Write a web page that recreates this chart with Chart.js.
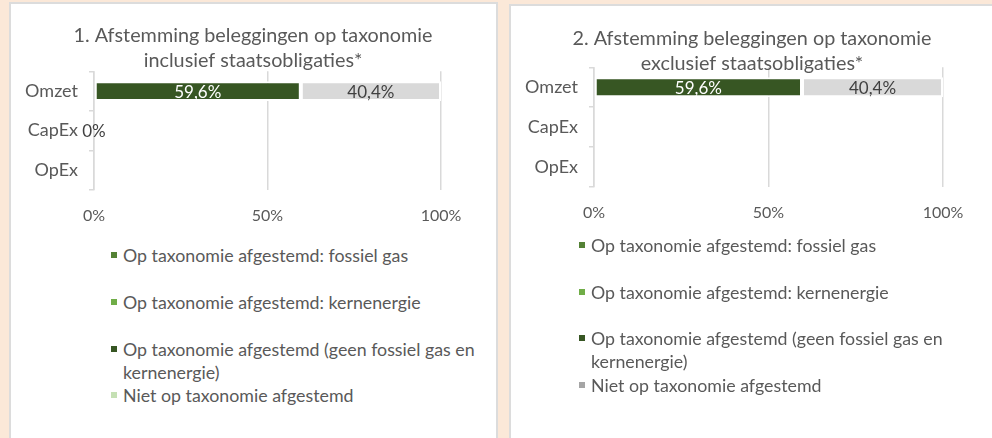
<!DOCTYPE html>
<html>
<head>
<meta charset="utf-8">
<script src="https://cdn.jsdelivr.net/npm/chart.js@4.4.1/dist/chart.umd.min.js"></script>
<style>
  body { margin: 0; width: 992px; height: 438px; background: #fbe8d8; overflow: hidden; position: relative; font-family: Lato, sans-serif; }
  .panel { position: absolute; background: #fff; border: 2px solid #dcdcdc; box-sizing: border-box; }
  #p1 { left: 9px; top: 2px; width: 489px; height: 460px; }
  #p2 { left: 509px; top: 4px; width: 500px; height: 460px; }
  .wrap { position: absolute; top: 0; height: 240px; }
  #w1 { left: 0; width: 506px; }
  #w2 { left: 512px; width: 480px; }
  .legend { position: absolute; color: #595959; font-size: 17.8px; }
  #l1 { left: 123px; top: 244px; }
  #l2 { left: 591px; top: 234px; }
  .item { position: absolute; left: 0; width: 370px; line-height: 23px; }
  .dot { position: absolute; left: -12px; top: 8px; width: 6px; height: 6px; }
</style>
</head>
<body>
<div class="panel" id="p1"></div>
<div class="panel" id="p2"></div>
<div class="wrap" id="w1"><canvas id="c1"></canvas></div>
<div class="wrap" id="w2"><canvas id="c2"></canvas></div>
<div class="legend" id="l1"></div>
<div class="legend" id="l2"></div>
<script>
const categories = ['Omzet', 'CapEx', 'OpEx'];
const seriesNames = [
  'Op taxonomie afgestemd: fossiel gas',
  'Op taxonomie afgestemd: kernenergie',
  'Op taxonomie afgestemd (geen fossiel gas en kernenergie)',
  'Niet op taxonomie afgestemd'
];
const xTicks = [0, 50, 100];

// 1. inclusief staatsobligaties
const inclFossilGas = [null, null, null];
const inclNuclear = [null, null, null];
const inclAligned = [59.6, null, null];
const inclNotAligned = [40.4, 0, null];

// 2. exclusief staatsobligaties
const exclFossilGas = [null, null, null];
const exclNuclear = [null, null, null];
const exclAligned = [59.6, null, null];
const exclNotAligned = [40.4, null, null];

const TEXT = '#595959';
const GRID = '#d9d9d9';
const COLORS = ['#548235', '#70ad47', '#375623', '#d9d9d9'];

const fmt = v => Number.isInteger(v) ? v + '%' : v.toFixed(1).replace('.', ',') + '%';

const barLabels = {
  id: 'barLabels',
  afterDatasetsDraw(chart) {
    const ctx = chart.ctx;
    ctx.save();
    ctx.font = '17px Lato';
    ctx.textAlign = 'center';
    ctx.textBaseline = 'middle';
    chart.data.datasets.forEach((ds, i) => {
      if (!ds.labelColor) return;
      chart.getDatasetMeta(i).data.forEach((el, j) => {
        const v = ds.data[j];
        if (v == null) return;
        ctx.fillStyle = ds.labelColor;
        ctx.fillText(fmt(v), (el.x + el.base) / 2, el.y + 1);
      });
    });
    ctx.restore();
  }
};

// centre the title over the whole canvas, not just the padded box
const fullTitle = {
  id: 'fullTitle',
  afterLayout(chart) {
    if (chart.titleBlock) { chart.titleBlock.left = 0; chart.titleBlock.right = chart.width; }
  }
};

function makeChart(id, title, series, o) {
  const labelColors = [null, null, '#ffffff', '#404040'];
  return new Chart(document.getElementById(id), {
    type: 'bar',
    data: {
      labels: categories,
      datasets: series.map((d, i) => ({
        label: seriesNames[i],
        data: d,
        backgroundColor: COLORS[i],
        borderColor: '#ffffff',
        borderWidth: 2,
        borderSkipped: false,
        barPercentage: 0.5,
        categoryPercentage: 1,
        labelColor: labelColors[i]
      }))
    },
    options: {
      indexAxis: 'y',
      responsive: true, maintainAspectRatio: false, animation: false,
      layout: { padding: { left: 0, right: o.right, top: 0, bottom: 0 } },
      plugins: {
        legend: { display: false },
        tooltip: { enabled: false },
        title: {
          display: true, text: title, color: TEXT,
          font: { family: 'Lato', size: 19.8, weight: 'normal', lineHeight: 1.27 },
          padding: { top: o.titleTop, bottom: o.titleBottom }
        }
      },
      scales: {
        x: {
          stacked: true, min: 0, max: 100,
          afterBuildTicks: s => { s.ticks = xTicks.map(v => ({ value: v })); },
          afterFit: s => { s.height = o.xHeight; },
          grid: { color: GRID, lineWidth: 1.5, drawTicks: false },
          border: { display: false },
          ticks: { color: TEXT, font: { family: 'Lato', size: 16 }, padding: o.xPad, callback: v => v + '%' }
        },
        y: {
          stacked: true,
          afterFit: s => { s.width = o.yWidth; },
          grid: { color: GRID, lineWidth: 1.5, drawOnChartArea: false, offset: true, tickLength: 5 },
          border: { display: true, color: GRID, width: 1.5 },
          ticks: { color: TEXT, font: { family: 'Lato', size: 18 }, padding: 11 }
        }
      }
    },
    plugins: [barLabels, fullTitle]
  });
}

makeChart('c1', ['1. Afstemming beleggingen op taxonomie', 'inclusief staatsobligaties*'],
  [inclFossilGas, inclNuclear, inclAligned, inclNotAligned],
  { right: 65, yWidth: 94, xHeight: 50, xPad: 16, titleTop: 23, titleBottom: -2 });

makeChart('c2', ['2. Afstemming beleggingen op taxonomie', 'exclusief staatsobligaties*'],
  [exclFossilGas, exclNuclear, exclAligned, exclNotAligned],
  { right: 49, yWidth: 82, xHeight: 53, xPad: 16, titleTop: 26, titleBottom: -9 });

function makeLegend(id, markerColors, offsets) {
  const el = document.getElementById(id);
  seriesNames.forEach((name, i) => {
    const it = document.createElement('div');
    it.className = 'item';
    it.style.top = offsets[i] + 'px';
    it.innerHTML = '<span class="dot" style="background:' + markerColors[i] + '"></span>' + name;
    el.appendChild(it);
  });
}
makeLegend('l1', ['#548235', '#70ad47', '#375623', '#c5e0b4'], [0, 47, 94, 140]);
makeLegend('l2', ['#548235', '#70ad47', '#375623', '#a5a5a5'], [0, 47, 93, 140]);
</script>
</body>
</html>
